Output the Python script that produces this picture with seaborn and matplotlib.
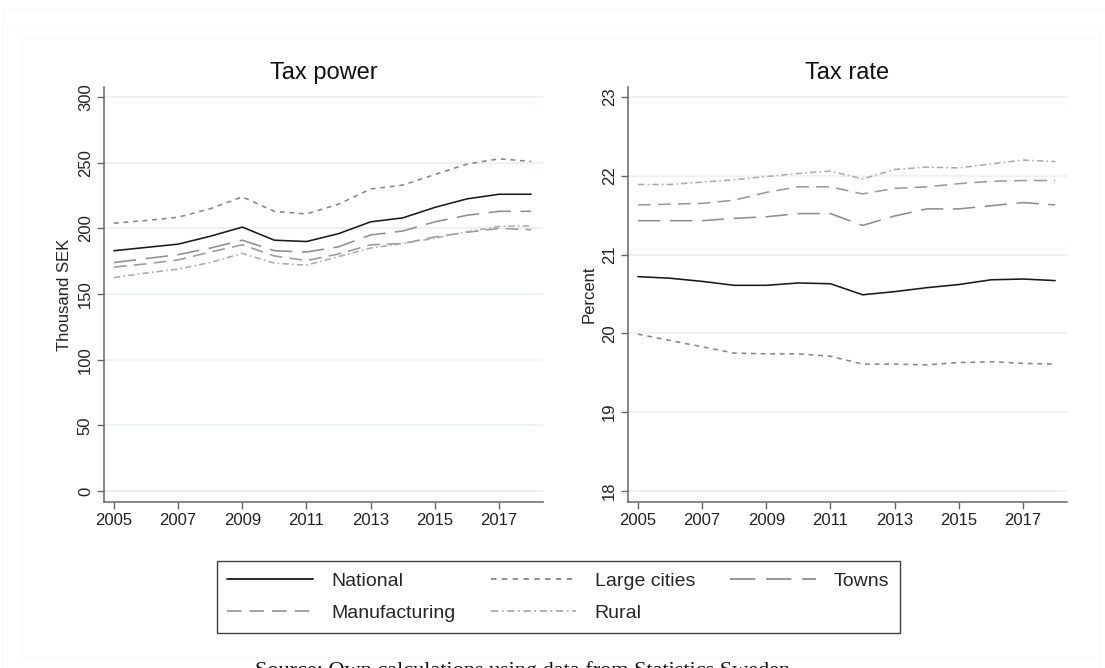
import matplotlib
matplotlib.use("Agg")
import matplotlib.pyplot as plt
from matplotlib.patches import Rectangle
import seaborn as sns
import pandas as pd

years = list(range(2005, 2019))
regions = ["National", "Large cities", "Towns", "Manufacturing", "Rural"]

# Tax power, thousand SEK per inhabitant
power_national = [183, 185.5, 188, 194, 201, 191, 190, 196, 205, 208, 216, 222.5, 226, 226]
power_large = [204, 206, 208.5, 215, 224, 213, 211, 218.5, 230, 233, 241, 249, 253, 251]
power_towns = [174, 177, 180, 185, 191, 183, 182, 186, 195, 198, 205, 210, 213, 213]
power_manuf = [170.5, 173, 176, 182, 187.5, 179, 175.5, 180.5, 187.5, 188.5, 193.5, 197, 200, 199]
power_rural = [162.5, 166, 169, 174, 181, 173.5, 172, 178.5, 185, 188.5, 192.5, 197.5, 201.5, 202]

# Local tax rate, percent
rate_national = [20.72, 20.70, 20.66, 20.61, 20.61, 20.64, 20.63, 20.49, 20.53, 20.58, 20.62, 20.68, 20.69, 20.67]
rate_large = [19.99, 19.91, 19.83, 19.75, 19.74, 19.74, 19.71, 19.61, 19.61, 19.60, 19.63, 19.64, 19.62, 19.61]
rate_towns = [21.43, 21.43, 21.43, 21.46, 21.48, 21.52, 21.52, 21.37, 21.49, 21.58, 21.58, 21.62, 21.66, 21.63]
rate_manuf = [21.63, 21.64, 21.65, 21.69, 21.79, 21.86, 21.86, 21.77, 21.84, 21.86, 21.90, 21.93, 21.94, 21.94]
rate_rural = [21.89, 21.89, 21.92, 21.95, 21.99, 22.03, 22.06, 21.96, 22.08, 22.11, 22.10, 22.15, 22.20, 22.18]

power_ticks = [0, 50, 100, 150, 200, 250, 300]
rate_ticks = [18, 19, 20, 21, 22, 23]
year_ticks = [2005, 2007, 2009, 2011, 2013, 2015, 2017]


def long_frame(series):
    rows = []
    for name, vals in zip(regions, series):
        for y, v in zip(years, vals):
            rows.append({"Year": y, "Region": name, "Value": v})
    return pd.DataFrame(rows)


power_df = long_frame([power_national, power_large, power_towns, power_manuf, power_rural])
rate_df = long_frame([rate_national, rate_large, rate_towns, rate_manuf, rate_rural])

palette = {
    "National": "#1a1a1a",
    "Large cities": "#868686",
    "Towns": "#8e8e8e",
    "Manufacturing": "#9a9a9a",
    "Rural": "#ababab",
}
dashes = {
    "National": "",
    "Large cities": (3, 3),
    "Towns": (14, 6),
    "Manufacturing": (8, 4.5),
    "Rural": (4, 2, 1, 2),
}

sns.set_theme(style="white")
plt.rcParams["font.family"] = ["Liberation Sans", "DejaVu Sans"]

fig = plt.figure(figsize=(11.05, 6.68), dpi=100)

# faint page frames
for (x0, y0, x1, y1, c) in [(3, 9, 1110, 700, "#fafafa"), (7, 24, 1100, 690, "#fbfbfb"),
                            (21, 38, 1099, 657, "#f9f9f9")]:
    fig.patches.append(Rectangle((x0 / 1105, 1 - y1 / 668), (x1 - x0) / 1105, (y1 - y0) / 668,
                                 transform=fig.transFigure, fill=False, edgecolor=c, lw=0.8))

ax1 = fig.add_axes([104 / 1105, 1 - 502 / 668, 439 / 1105, 415 / 668])
ax2 = fig.add_axes([628 / 1105, 1 - 502 / 668, 439 / 1105, 415 / 668])

panels = [
    (ax1, power_df, "Tax power", "Thousand SEK", power_ticks, (-8.4, 307.7)),
    (ax2, rate_df, "Tax rate", "Percent", rate_ticks, (17.86, 23.127)),
]

for ax, df, title, ylabel, yticks, ylim in panels:
    sns.lineplot(data=df, x="Year", y="Value", hue="Region", style="Region",
                 hue_order=regions, style_order=regions, palette=palette,
                 dashes=dashes, linewidth=1.15, ax=ax, legend=True)
    ax.set_xlim(2004.69, 2018.37)
    ax.set_ylim(*ylim)
    ax.set_xticks(year_ticks)
    ax.set_xticklabels([str(y) for y in year_ticks])
    ax.set_yticks(yticks)
    ax.set_yticklabels([str(t) for t in yticks], rotation=90, va="center")
    ax.set_title(title, fontsize=17, color="#111111", pad=6)
    ax.set_ylabel(ylabel, fontsize=12, color="#222222", labelpad=4)
    ax.set_xlabel("")
    ax.grid(axis="y", color="#e8f0f0", linewidth=1.2)
    ax.set_axisbelow(True)
    for side in ["top", "right"]:
        ax.spines[side].set_visible(False)
    for side in ["left", "bottom"]:
        ax.spines[side].set_color("#666666")
        ax.spines[side].set_linewidth(1.1)
    ax.tick_params(axis="both", which="major", direction="out", length=5, width=1,
                   color="#666666", labelsize=12, labelcolor="#222222", pad=3,
                   left=True, bottom=True)

handles, labels = ax1.get_legend_handles_labels()
lookup = dict(zip(labels, handles))
order = ["National", "Manufacturing", "Large cities", "Rural", "Towns"]
for ax in (ax1, ax2):
    ax.get_legend().remove()

leg = fig.legend([lookup[k] for k in order], order, loc="center",
                 bbox_to_anchor=(558.5 / 1105, 1 - 597 / 668), ncol=3,
                 fontsize=14, handlelength=4.4, handletextpad=0.95,
                 columnspacing=1.8, labelspacing=0.76, borderpad=0.55,
                 frameon=True, fancybox=False, shadow=False)
leg.get_frame().set_edgecolor("#111111")
leg.get_frame().set_linewidth(1.0)
for line in leg.get_lines():
    line.set_linewidth(1.3)

fig.text(255 / 1105, 1 - 661 / 668, "Source: Own calculations using data from Statistics Sweden",
         ha="left", va="top", fontsize=16, family=["Liberation Serif", "DejaVu Serif"],
         color="#111111")

fig.savefig("out.png", dpi=100)
